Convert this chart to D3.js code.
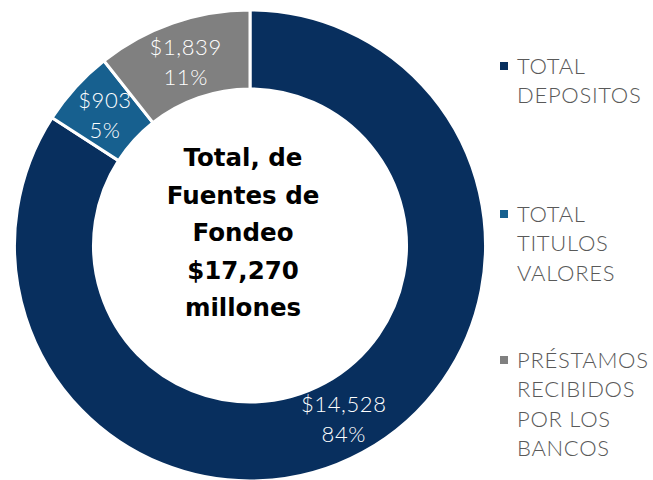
<!DOCTYPE html>
<html><head><meta charset="utf-8">
<script src="https://cdn.jsdelivr.net/npm/d3@7"></script>
<style>body{margin:0;background:#fff}svg{display:block}</style>
</head><body>
<script>
const categories = ["TOTAL DEPOSITOS", "TOTAL TITULOS VALORES", "PRÉSTAMOS RECIBIDOS POR LOS BANCOS"];
const legendLines = [["TOTAL","DEPOSITOS"],["TOTAL","TITULOS","VALORES"],["PRÉSTAMOS","RECIBIDOS","POR LOS","BANCOS"]];
const values = [14528, 903, 1839];
const percents = ["84%", "5%", "11%"];
const colors = ["#082F5E", "#17608F", "#808080"];
const centerLines = ["Total, de", "Fuentes de", "Fondeo", "$17,270", "millones"];

const W = 653, H = 480;
const svg = d3.select("body").append("svg").attr("width", W).attr("height", H);
const cx = 250, cy = 245.5, R = 235.5, r = 156.5;
const g = svg.append("g").attr("transform", `translate(${cx},${cy})`);
const pie = d3.pie().sort(null).value(d => d)(values);
const arc = d3.arc().innerRadius(r).outerRadius(R);
g.selectAll("path").data(pie).join("path")
  .attr("d", arc).attr("fill", (d,i) => colors[i])
  .attr("stroke", "#fff").attr("stroke-width", 3).attr("stroke-linejoin","miter");

const fmt = d3.format("$,");
const labelArc = d3.arc().innerRadius((r+R)/2).outerRadius((r+R)/2);
const lbl = g.selectAll("text.lbl").data(pie).join("text").attr("class","lbl")
  .attr("transform", d => `translate(${labelArc.centroid(d)})`)
  .attr("text-anchor","middle").attr("fill","#fff")
  .style("font-family","Lato, sans-serif").style("font-weight","300").style("font-size","22px")
  .style("letter-spacing","0.6px");
lbl.append("tspan").attr("x",0).attr("dy","-0.25em").text(d => fmt(d.data));
lbl.append("tspan").attr("x",0).attr("dy","1.35em").text((d,i) => percents[i]);

const ct = svg.append("text").attr("text-anchor","middle")
  .style("font-family","'DejaVu Sans', sans-serif").style("font-weight","bold").style("font-size","24.5px").attr("fill","#000");
centerLines.forEach((t,i) => ct.append("tspan").attr("x",243).attr("y",166 + i*37.5).text(t));

const legY = [74, 222, 368];
legendLines.forEach((lines, i) => {
  svg.append("rect").attr("x",500).attr("y",legY[i]-12).attr("width",8).attr("height",8).attr("fill",colors[i]);
  const t = svg.append("text").attr("fill","#595959")
    .style("font-family","Lato, sans-serif").style("font-weight","300").style("font-size","22px")
    .style("letter-spacing","0.7px");
  lines.forEach((l,j) => t.append("tspan").attr("x",517).attr("y",legY[i]+j*29.3).text(l));
});
</script>
</body></html>
